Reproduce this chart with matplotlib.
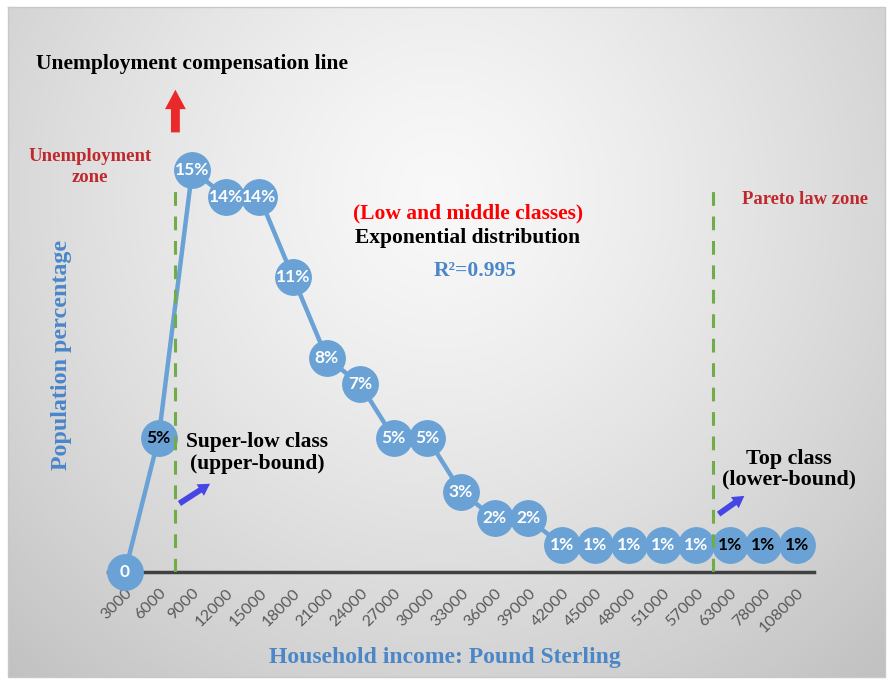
import numpy as np
import matplotlib
matplotlib.use("Agg")
import matplotlib.pyplot as plt

# data
incomes = ["3000", "6000", "9000", "12000", "15000", "18000", "21000", "24000",
           "27000", "30000", "33000", "36000", "39000", "42000", "45000", "48000",
           "51000", "57000", "63000", "78000", "108000"]
population = [0, 5, 15, 14, 14, 11, 8, 7, 5, 5, 3, 2, 2, 1, 1, 1, 1, 1, 1, 1, 1]
point_labels = ["0"] + [f"{v}%" for v in population[1:]]
dark_labels = [1, 18, 19, 20]   # labels printed in black instead of white
unemployment_cut = 1.5          # between 6000 and 9000
pareto_cut = 17.5               # between 57000 and 63000

W, H = 892, 682
fig = plt.figure(figsize=(W / 100, H / 100), dpi=100)
fig.patch.set_facecolor("white")

# gradient panel behind everything
bg = fig.add_axes([0, 0, 1, 1], zorder=-10)
yy, xx = np.mgrid[0:H, 0:W]
r = np.sqrt((xx - 440) ** 2 + (yy - 190) ** 2) / 620
shade = np.clip(0.975 - 0.20 * r ** 1.3, 0, 1)
img = np.dstack([shade, shade, shade])
bg.imshow(img, extent=[8, 885, 677, 7], aspect="auto")
bg.plot([8, 885, 885, 8, 8], [7, 7, 677, 677, 7], color="#c8c8c8", lw=1)
bg.set_xlim(0, W)
bg.set_ylim(H, 0)
bg.axis("off")

ax = fig.add_axes([108.2 / W, 110 / H, 705.6 / W, 428.8 / H])
ax.patch.set_alpha(0)
x = np.arange(len(incomes))
ax.set_xlim(-0.5, len(incomes) - 0.5)
ax.set_ylim(0, 16)

blue = "#6aa2d6"
ax.plot(x, population, color=blue, lw=3.2, marker="o", markersize=25.5,
        markerfacecolor=blue, markeredgecolor=blue, zorder=4, clip_on=False)
for i, (xi, v, lab) in enumerate(zip(x, population, point_labels)):
    c = "black" if i in dark_labels else "white"
    ax.text(xi, v, lab, ha="center", va="center", color=c, fontsize=12.5,
            fontweight="bold", family="Lato", zorder=5)

# dashed zone borders
ax.plot([unemployment_cut, unemployment_cut], [0, 14.2], color="#70ad47",
        lw=2.2, dashes=(4.5, 3.5), zorder=6)
ax.plot([pareto_cut, pareto_cut], [0, 14.4], color="#70ad47",
        lw=2.2, dashes=(4.5, 3.5), zorder=6)

# red arrow above the unemployment cut
ax.annotate("", xy=(unemployment_cut, 18.1), xytext=(unemployment_cut, 16.3),
            annotation_clip=False,
            arrowprops=dict(arrowstyle="simple,head_width=0.75,head_length=0.7,tail_width=0.32",
                            mutation_scale=20, color="#ea2a2a", lw=0))
# blue arrows
for (x0, y0), (x1, y1) in [((1.55, 2.5), (2.6, 3.35)), ((17.6, 2.1), (18.5, 2.9))]:
    ax.annotate("", xy=(x1, y1), xytext=(x0, y0), annotation_clip=False,
                arrowprops=dict(arrowstyle="simple,head_width=0.7,head_length=0.6,tail_width=0.3",
                                mutation_scale=14, color="#4646e6", lw=0))

for s in ["top", "right", "left"]:
    ax.spines[s].set_visible(False)
ax.spines["bottom"].set_color("#404040")
ax.spines["bottom"].set_linewidth(2.5)
ax.set_yticks([])
ax.set_xticks(x)
ax.set_xticklabels(incomes, rotation=45, ha="right", va="top",
                   rotation_mode="anchor", color="#595959", fontsize=11.5, family="Lato")
ax.tick_params(axis="x", length=0, pad=10)

serif = "Liberation Serif"
fig.text(36 / W, 1 - 64 / H, "Unemployment compensation line", family=serif,
         fontweight="bold", fontsize=15.5, ha="left", va="center", color="black")
fig.text(90 / W, 1 - 167 / H, "Unemployment\nzone", family=serif, fontweight="bold",
         fontsize=13.5, ha="center", va="center", color="#c0282d", linespacing=1.25)
fig.text(805 / W, 1 - 200 / H, "Pareto law zone", family=serif, fontweight="bold",
         fontsize=13.4, ha="center", va="center", color="#c0282d")
fig.text(468 / W, 1 - 213 / H, "(Low and middle classes)", family=serif,
         fontweight="bold", fontsize=15.5, ha="center", va="center", color="#ff0000")
fig.text(468 / W, 1 - 238 / H, "Exponential distribution", family=serif,
         fontweight="bold", fontsize=15.5, ha="center", va="center", color="black")
fig.text(475 / W, 1 - 271 / H, "R²=0.995", family=serif,
         fontweight="bold", fontsize=15.5, ha="center", va="center", color="#4a86c8")
fig.text(257 / W, 1 - 453 / H, "Super-low class\n(upper-bound)", family=serif,
         fontweight="bold", fontsize=15.5, ha="center", va="center", color="black",
         linespacing=1.1)
fig.text(789 / W, 1 - 469 / H, "Top class\n(lower-bound)", family=serif,
         fontweight="bold", fontsize=15.8, ha="center", va="center", color="black",
         linespacing=1.05)
fig.text(62 / W, 1 - 355 / H, "Population percentage", family=serif,
         fontweight="bold", fontsize=17.3, ha="center", va="center", color="#4a86c8",
         rotation=90)
fig.text(445 / W, 1 - 657 / H, "Household income: Pound Sterling", family=serif,
         fontweight="bold", fontsize=17, ha="center", va="center", color="#4a86c8")

fig.savefig("out.png", dpi=100)
